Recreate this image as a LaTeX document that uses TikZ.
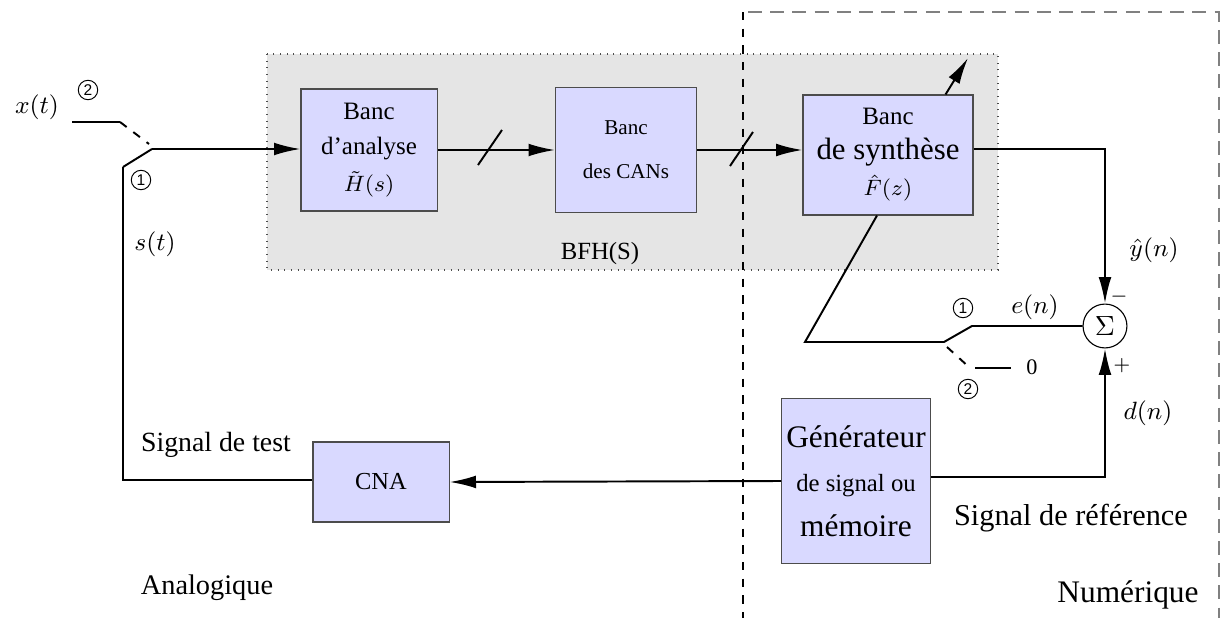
\documentclass[tikz,border=0pt]{standalone}
\usepackage{fontspec}
\setmainfont{Liberation Serif}
\setsansfont{Liberation Sans}
\usetikzlibrary{arrows.meta,calc,positioning}

\begin{document}
\begin{tikzpicture}[x=0.36pt,y=-0.36pt,
  bloc/.style={draw=black!70,fill=blue!15,align=center,inner sep=0pt},
  fl/.style={-{Latex[length=9.5pt,width=4.6pt]}},
  trait/.style={line width=0.7pt},
  num/.style={draw,circle,line width=0.35pt,inner sep=0pt,minimum size=7pt,font=\sffamily\fontsize{5.6}{6}\selectfont},
  lbl/.style={font=\fontsize{9.4}{11}\selectfont}]

\useasboundingbox (0,0) rectangle (1231,618);

% zones
\draw[dotted,draw=black!70,fill=black!10] (267,54) rectangle (998,270);
\draw[dashed] (743,12) -- (743,618);
\draw[black!50,line width=0.8pt,dash pattern=on 5pt off 3pt] (748,12) -- (1219,12) -- (1219,618);

% blocs
\node[bloc,minimum width=49pt,minimum height=43.9pt,font=\fontsize{9}{12.8}\selectfont] (ana) at (369,150) {Banc\\ d'analyse\\[0.6pt] {\fontsize{8.5}{10}\selectfont$\tilde{H}(s)$}};
\node[bloc,minimum width=50.8pt,minimum height=45pt,font=\fontsize{7.6}{15.8}\selectfont] (can) at (626,150) {Banc\\ des CANs};
\node[bloc,minimum width=61.2pt,minimum height=43.2pt,font=\fontsize{9}{12.3}\selectfont] (syn) at (888,155) {Banc\\ {\fontsize{11.1}{12.3}\selectfont de synthèse}\\[1pt] {\fontsize{8.5}{10}\selectfont$\hat{F}(z)$}};
\node[bloc,minimum width=49pt,minimum height=28.8pt,font=\fontsize{8.8}{10}\selectfont] (cna) at (381,482) {CNA};
\node[bloc,minimum width=53.6pt,minimum height=59.4pt,font=\fontsize{11.3}{16}\selectfont] (gen) at (856,481) {Générateur\\ {\fontsize{8.9}{15}\selectfont de signal ou}\\ mémoire};
\node[circle,draw,minimum size=15.8pt,inner sep=0pt] (som) at (1105,326) {$\Sigma$};

% interrupteur analogique
\coordinate (xt) at (72,122);
\coordinate (k2) at (120,122);
\coordinate (c2) at (149,144);
\coordinate (k1) at (123,167);
\coordinate (pv) at (152,149);
\coordinate (bg) at (123,480);
\draw[trait] (xt) -- (k2);
\draw[trait,dashed] (k2) -- (c2);
\draw[trait] (k1) -- (pv);
\draw[trait,fl] (pv) -- (pv -| ana.west);
\draw[trait] (k1) -- (bg) -- (bg -| cna.west);

% chaine principale
\draw[trait,fl] (ana.east) -- (can.west);
\draw[trait,fl] (can.east) -- (can.east -| syn.west);
\draw[trait] (478,165) -- (502,130);
\draw[trait] (730,166) -- (753,132);
\coordinate (so) at (968,58);
\draw[trait,fl] ($(syn.north east)+(-28,0)$) -- (so);
\draw[trait,fl] ($(syn.east)+(0,-6)$) -| (som.north);

% interrupteur numerique
\coordinate (rb) at (805,342);
\coordinate (p1) at (944,342);
\coordinate (c1) at (972,326);
\draw[trait] ($(syn.south)+(-11,0)$) -- (rb) -- (p1) -- (c1) -- (som.west);
\draw[trait,dashed] (947,347) -- (970,368);
\coordinate (z0) at (975,368);
\coordinate (z1) at (1011,368);
\draw[trait] (z0) -- (z1);

% reference
\draw[trait,fl] ($(gen.east)+(0,-4)$) -| (som.south);
\draw[trait,fl] (gen.west) -- (cna.east);

% textes
\node[lbl] (lxt) at (37,107) {$x(t)$};
\node[num] (n2a) at (88,90) {2};
\node[num] (n1a) at (141,180) {1};
\node[lbl] (lst) at (155,244) {$s(t)$};
\node[font=\fontsize{8.9}{10}\selectfont] (lbfh) at (600,254) {BFH(S)};
\node[lbl] (lyn) at (1154,250) {$\hat{y}(n)$};
\node[font=\scriptsize] (lmoins) at (1119,297) {$-$};
\node[font=\scriptsize] (lplus) at (1122,366) {$+$};
\node[lbl] (len) at (1035,307) {$e(n)$};
\node[num] (n1b) at (963,308) {1};
\node[font=\fontsize{8}{10}\selectfont] (lzero) at (1032,367) {0};
\node[num] (n2b) at (968,389) {2};
\node[lbl] (ldn) at (1148,413) {$d(n)$};
\node[font=\fontsize{10}{12}\selectfont] (ltest) at (216,445) {Signal de test};
\node[font=\fontsize{10.2}{12}\selectfont] (lana) at (207,588) {Analogique};
\node[font=\fontsize{10.9}{12}\selectfont] (lref) at (1071,518) {Signal de référence};
\node[font=\fontsize{11.3}{12}\selectfont] (lnum) at (1128,595) {Numérique};
\end{tikzpicture}
\end{document}
